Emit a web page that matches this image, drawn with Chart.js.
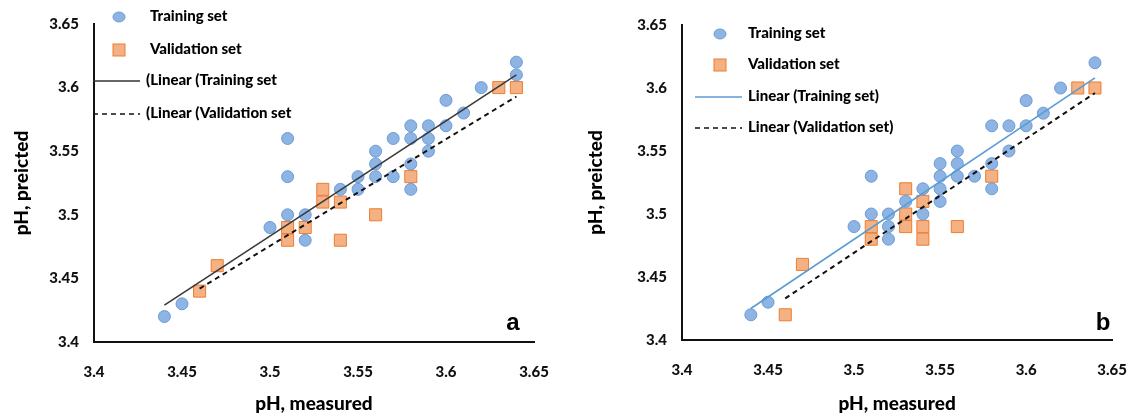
<!DOCTYPE html>
<html>
<head>
<meta charset="utf-8">
<script src="https://cdn.jsdelivr.net/npm/chart.js@4.4.0/dist/chart.umd.min.js"></script>
<style>
  html, body { margin: 0; padding: 0; background: #fff; }
  .wrap { position: absolute; top: 0; width: 574px; height: 420px; }
  #wrapA { left: 0; }
  #wrapB { left: 574px; }
</style>
</head>
<body>
<div class="wrap" id="wrapA"><canvas id="chartA" width="574" height="420"></canvas></div>
<div class="wrap" id="wrapB"><canvas id="chartB" width="574" height="420"></canvas></div>
<script>
// ticks, same on both axes and both panels
const tickValues = [3.4, 3.45, 3.5, 3.55, 3.6, 3.65]
const tickLabels = ['3.4', '3.45', '3.5', '3.55', '3.6', '3.65']

// panel a  [measured, predicted]
const trainA = [
    [3.44, 3.42], [3.45, 3.43], [3.50, 3.49], [3.51, 3.56], [3.51, 3.53], [3.51, 3.50],
    [3.52, 3.50], [3.52, 3.48], [3.54, 3.52], [3.55, 3.53], [3.55, 3.52], [3.56, 3.55],
    [3.56, 3.54], [3.56, 3.53], [3.57, 3.56], [3.57, 3.53], [3.58, 3.57], [3.58, 3.56],
    [3.58, 3.54], [3.58, 3.52], [3.59, 3.57], [3.59, 3.56], [3.59, 3.55], [3.60, 3.59],
    [3.60, 3.57], [3.61, 3.58], [3.62, 3.60], [3.64, 3.62], [3.64, 3.61]
]
const validA = [
    [3.46, 3.44], [3.47, 3.46], [3.51, 3.49], [3.51, 3.48], [3.52, 3.49], [3.53, 3.52],
    [3.53, 3.51], [3.54, 3.51], [3.54, 3.48], [3.56, 3.50], [3.58, 3.53], [3.63, 3.60],
    [3.64, 3.60]
]
const trainFitA = [[3.44, 3.429], [3.64, 3.610]]
const validFitA = [[3.46, 3.442], [3.64, 3.593]]

// panel b
const trainB = [
    [3.44, 3.42], [3.45, 3.43], [3.50, 3.49], [3.51, 3.53], [3.51, 3.50], [3.52, 3.50],
    [3.52, 3.49], [3.52, 3.48], [3.53, 3.51], [3.54, 3.52], [3.54, 3.50], [3.55, 3.54],
    [3.55, 3.53], [3.55, 3.52], [3.55, 3.51], [3.56, 3.55], [3.56, 3.54], [3.56, 3.53],
    [3.57, 3.53], [3.58, 3.57], [3.58, 3.54], [3.58, 3.52], [3.59, 3.57], [3.59, 3.55],
    [3.60, 3.59], [3.60, 3.57], [3.61, 3.58], [3.62, 3.60], [3.64, 3.62]
]
const validB = [
    [3.46, 3.42], [3.47, 3.46], [3.51, 3.49], [3.51, 3.48], [3.53, 3.52], [3.53, 3.50],
    [3.53, 3.49], [3.54, 3.51], [3.54, 3.49], [3.54, 3.48], [3.56, 3.49], [3.58, 3.53],
    [3.63, 3.60], [3.64, 3.60]
]
const trainFitB = [[3.44, 3.425], [3.64, 3.608]]
const validFitB = [[3.46, 3.433], [3.64, 3.596]]

const FONT = 'Lato, "Liberation Sans", sans-serif'
const toXY = (arr) => arr.map(p => ({ x: p[0], y: p[1] }))

// legend + panel letter drawn straight on the canvas
const legendPlugin = {
    id: 'panelLegend',
    afterDraw: (chart, args, opts) => {
        const ctx = chart.ctx
        ctx.save()
        ctx.textBaseline = 'middle'
        ctx.textAlign = 'left'
        opts.items.forEach(item => {
            if (item.kind == 'circle') {
                ctx.beginPath()
                ctx.ellipse(item.x, item.y, 6, 5, 0, 0, Math.PI * 2)
                ctx.fillStyle = '#8db4e2'
                ctx.fill()
                ctx.strokeStyle = '#6b9bd6'
                ctx.lineWidth = 1
                ctx.stroke()
            } else if (item.kind == 'square') {
                ctx.fillStyle = '#f4b183'
                ctx.fillRect(item.x - 6, item.y - 6, 12, 12)
                ctx.strokeStyle = '#ed7d31'
                ctx.lineWidth = 1
                ctx.strokeRect(item.x - 6, item.y - 6, 12, 12)
            } else {
                ctx.beginPath()
                ctx.setLineDash(item.dash || [])
                ctx.strokeStyle = item.color
                ctx.lineWidth = item.width
                ctx.moveTo(item.x, item.y)
                ctx.lineTo(item.x2, item.y)
                ctx.stroke()
                ctx.setLineDash([])
            }
            ctx.fillStyle = '#000'
            ctx.font = '900 15px ' + FONT
            ctx.fillText(item.text, item.tx, item.y - 1)
        })
        ctx.font = 'bold 24px "Liberation Sans", Arial, sans-serif'
        ctx.textAlign = 'center'
        ctx.fillText(opts.letter, opts.letterX, opts.letterY)
        ctx.restore()
    }
}

const makeConfig = (train, valid, trainFit, validFit, fitColor, layout, legend) => ({
    type: 'scatter',
    data: {
        datasets: [
            {
                type: 'line', data: toXY(trainFit), borderColor: fitColor, borderWidth: 1.6,
                pointRadius: 0, fill: false, order: 0
            },
            {
                type: 'line', data: toXY(validFit), borderColor: '#111', borderWidth: 2,
                borderDash: [5, 4], pointRadius: 0, fill: false, order: 0
            },
            {
                data: toXY(train), pointStyle: 'circle', pointRadius: 6,
                backgroundColor: '#8db4e2', borderColor: '#6b9bd6', borderWidth: 1, order: 1
            },
            {
                data: toXY(valid), pointStyle: 'rect', pointRadius: 8.5,
                backgroundColor: '#f4b183', borderColor: '#ed7d31', borderWidth: 1, order: 1
            }
        ]
    },
    plugins: [legendPlugin],
    options: {
        responsive: false,
        animation: false,
        layout: { padding: { left: 0, top: layout.top, right: layout.right, bottom: 0 } },
        plugins: {
            legend: { display: false },
            tooltip: { enabled: false },
            panelLegend: legend
        },
        scales: {
            x: {
                type: 'linear', min: 3.4, max: 3.65,
                afterBuildTicks: (scale) => { scale.ticks = tickValues.map(v => ({ value: v })) },
                afterFit: (scale) => { scale.height = layout.xHeight },
                grid: { display: false, drawTicks: false },
                border: { display: true, color: '#111', width: 2 },
                ticks: {
                    padding: 21, color: '#111', font: { family: FONT, size: 15, weight: '900' },
                    callback: (v) => tickLabels[tickValues.indexOf(Number(v.toFixed(2)))]
                },
                title: {
                    display: true, text: 'pH, measured', color: '#000',
                    font: { family: FONT, size: 19, weight: '900' }, padding: { top: 0, bottom: 5 }
                }
            },
            y: {
                type: 'linear', min: 3.4, max: 3.65,
                afterBuildTicks: (scale) => { scale.ticks = tickValues.map(v => ({ value: v })) },
                afterFit: (scale) => { scale.width = layout.yWidth },
                grid: { display: false, drawTicks: false },
                border: { display: true, color: '#111', width: 2 },
                ticks: {
                    padding: 15, color: '#111', font: { family: FONT, size: 15, weight: '900' },
                    callback: (v) => tickLabels[tickValues.indexOf(Number(v.toFixed(2)))]
                },
                title: {
                    display: true, text: 'pH, preicted', color: '#000',
                    font: { family: FONT, size: 19, weight: '900' }, padding: { top: 10, bottom: 0 }
                }
            }
        }
    }
})

const legendA = {
    letter: 'a', letterX: 513, letterY: 323,
    items: [
        { kind: 'circle', x: 119, y: 17, tx: 150, text: 'Training set' },
        { kind: 'square', x: 119, y: 50, tx: 150, text: 'Validation set' },
        { kind: 'line', x: 93, x2: 140, y: 81, color: '#333', width: 1.6, tx: 146, text: '(Linear (Training set' },
        { kind: 'line', x: 93, x2: 140, y: 114, color: '#111', width: 1.6, dash: [5, 4], tx: 146, text: '(Linear (Validation set' }
    ]
}
const legendB = {
    letter: 'b', letterX: 529, letterY: 323,
    items: [
        { kind: 'circle', x: 146, y: 34, tx: 174, text: 'Training set' },
        { kind: 'square', x: 146, y: 65, tx: 174, text: 'Validation set' },
        { kind: 'line', x: 121, x2: 168, y: 97, color: '#5b9bd5', width: 1.6, tx: 174, text: 'Linear (Training set)' },
        { kind: 'line', x: 121, x2: 168, y: 128, color: '#111', width: 1.6, dash: [5, 4], tx: 174, text: 'Linear (Validation set)' }
    ]
}

const chartA = new Chart(document.querySelector('#chartA'),
    makeConfig(trainA, validA, trainFitA, validFitA, '#3a3a3a',
        { top: 22, right: 40, xHeight: 78, yWidth: 94 }, legendA))

const chartB = new Chart(document.querySelector('#chartB'),
    makeConfig(trainB, validB, trainFitB, validFitB, '#5b9bd5',
        { top: 25, right: 26, xHeight: 80, yWidth: 108 }, legendB))
</script>
</body>
</html>
